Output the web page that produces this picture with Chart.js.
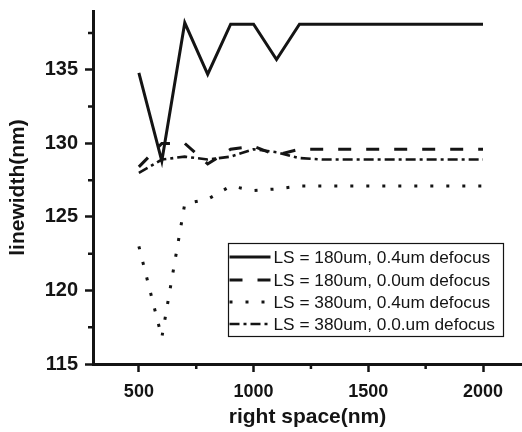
<!DOCTYPE html>
<html>
<head>
<meta charset="utf-8">
<script src="https://cdn.jsdelivr.net/npm/chart.js@4/dist/chart.umd.min.js"></script>
<style>
  html, body { margin: 0; padding: 0; background: #fff; }
  #wrap { width: 522px; height: 432px; }
</style>
</head>
<body>
<div id="wrap"><canvas id="chartCanvas" width="522" height="432"></canvas></div>
<script>
// right space values (nm)
var spaces = [500, 600, 700, 800, 900, 1000, 1100, 1200, 1300, 1400, 1500, 1600, 1700, 1800, 1900, 2000];

// linewidth (nm) per setting
var ls180Def04 = [134.8, 128.8, 138.2, 134.7, 138.1, 138.1, 135.7, 138.1, 138.1, 138.1, 138.1, 138.1, 138.1, 138.1, 138.1, 138.1];
var ls180Def00 = [128.4, 130.0, 130.0, 128.6, 129.6, 129.8, 129.2, 129.6, 129.6, 129.6, 129.6, 129.6, 129.6, 129.6, 129.6, 129.6];
var ls380Def04 = [123.0, 116.8, 125.9, 126.2, 127.1, 126.8, 126.9, 127.1, 127.1, 127.1, 127.1, 127.1, 127.1, 127.1, 127.1, 127.1];
var ls380Def00 = [128.0, 128.9, 129.1, 128.9, 129.1, 129.6, 129.4, 129.0, 128.9, 128.9, 128.9, 128.9, 128.9, 128.9, 128.9, 128.9];

var seriesNames = [
	'LS = 180um, 0.4um defocus',
	'LS = 180um, 0.0um defocus',
	'LS = 380um, 0.4um defocus',
	'LS = 380um, 0.0.um defocus'
];

// axis ticks
var xMajor = [500, 1000, 1500, 2000];
var xMinor = [750, 1250, 1750];
var yMajor = [115, 120, 125, 130, 135];
var yMinor = [117.5, 122.5, 127.5, 132.5, 137.5];

var ink = '#141414';
var fontFam = '"Liberation Sans", Arial, sans-serif';
var dashes = [[], [13, 15], [3, 13], [10, 4, 3, 4]];
var widths = [3, 3, 3, 2.6];

function pts(ys) {
	var out = [];
	for (var i = 0; i < spaces.length; i++) {
		out.push({x: spaces[i], y: ys[i]});
	}
	return out;
}

var allSeries = [ls180Def04, ls180Def00, ls380Def04, ls380Def00];
var datasets = allSeries.map(function(ys, i) {
	return {
		label: seriesNames[i],
		data: pts(ys),
		borderColor: ink,
		borderWidth: widths[i],
		borderDash: dashes[i],
		borderCapStyle: 'butt',
		borderJoinStyle: 'miter',
		pointRadius: 0,
		tension: 0,
		fill: false
	};
});

function setTicks(list) {
	return function(scale) {
		scale.ticks = list.map(function(v) { return {value: v}; });
	};
}

// minor ticks + in-plot legend
var extras = {
	id: 'extras',
	afterDraw: function(chart) {
		var ctx = chart.ctx;
		var xs = chart.scales.x, ys = chart.scales.y;
		var area = chart.chartArea;
		ctx.save();
		ctx.strokeStyle = ink;
		ctx.lineWidth = 2.5;
		ctx.beginPath();
		xMinor.forEach(function(v) {
			var px = xs.getPixelForValue(v);
			ctx.moveTo(px, area.bottom);
			ctx.lineTo(px, area.bottom + 5);
		});
		yMinor.forEach(function(v) {
			var py = ys.getPixelForValue(v);
			ctx.moveTo(area.left, py);
			ctx.lineTo(area.left - 5, py);
		});
		ctx.stroke();

		// legend box
		var bx = 228.5, by = 243.5, bw = 275, bh = 93;
		ctx.lineWidth = 1.2;
		ctx.strokeRect(bx, by, bw, bh);
		ctx.font = '17.3px ' + fontFam;
		ctx.fillStyle = ink;
		ctx.textBaseline = 'middle';
		var rowY = [257, 280, 302, 324];
		chart.data.datasets.forEach(function(ds, i) {
			ctx.beginPath();
			ctx.lineWidth = ds.borderWidth;
			ctx.setLineDash(ds.borderDash);
			ctx.moveTo(bx + 1, rowY[i]);
			ctx.lineTo(bx + 42, rowY[i]);
			ctx.stroke();
			ctx.setLineDash([]);
			ctx.fillText(ds.label, bx + 45, rowY[i] + 1);
		});
		ctx.restore();
	}
};

var chartCanvas = document.getElementById('chartCanvas');
var chartObj = new Chart(chartCanvas, {
	type: 'line',
	data: { datasets: datasets },
	options: {
		responsive: false,
		animation: false,
		layout: { padding: { top: 11, right: 0, left: 0, bottom: 0 } },
		plugins: { legend: { display: false }, tooltip: { enabled: false } },
		scales: {
			x: {
				type: 'linear',
				min: 300,
				max: 2170,
				afterBuildTicks: setTicks(xMajor),
				afterFit: function(scale) {
					scale.height = 68;
					scale.paddingLeft = 0;
					scale.paddingRight = 0;
				},
				border: { display: true, color: ink, width: 3 },
				grid: { drawOnChartArea: false, drawTicks: true, tickLength: 8, tickWidth: 2.5, tickColor: ink },
				ticks: {
					maxRotation: 0,
					autoSkip: false,
					padding: 9,
					color: ink,
					font: { family: fontFam, size: 18, weight: 'bold' },
					callback: function(v) { return String(v); }
				},
				title: {
					display: true,
					text: 'right space(nm)',
					color: ink,
					padding: { top: 0, bottom: 2 },
					font: { family: fontFam, size: 21, weight: 'bold' }
				}
			},
			y: {
				min: 115,
				max: 139,
				afterBuildTicks: setTicks(yMajor),
				afterFit: function(scale) {
					scale.width = 93;
					scale.paddingTop = 0;
					scale.paddingBottom = 0;
				},
				border: { display: true, color: ink, width: 3 },
				grid: { drawOnChartArea: false, drawTicks: true, tickLength: 8, tickWidth: 2.5, tickColor: ink },
				ticks: {
					autoSkip: false,
					padding: 7,
					color: ink,
					font: { family: fontFam, size: 20, weight: 'bold' },
					callback: function(v) { return String(v); }
				},
				title: {
					display: true,
					text: 'linewidth(nm)',
					color: ink,
					padding: { top: 6, bottom: 0 },
					font: { family: fontFam, size: 21, weight: 'bold' }
				}
			}
		}
	},
	plugins: [extras]
});
</script>
</body>
</html>
